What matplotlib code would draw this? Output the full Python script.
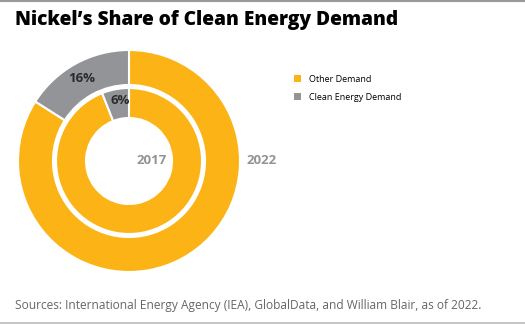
import matplotlib.pyplot as plt
from matplotlib.patches import Patch

labels = ["Other Demand", "Clean Energy Demand"]
share_2022 = [84, 16]
share_2017 = [94, 6]
colors = ["#FBB316", "#929497"]

H = 324
fig = plt.figure(figsize=(5.25, 3.24), dpi=100)
ax = fig.add_axes([0, 0, 1, 1])

def Y(y):
    # pixel row from top -> data y
    return H - y

cx, cy = 129, Y(161)
# outer ring 2022
ax.pie(share_2022, colors=colors, startangle=90, counterclock=False,
       radius=111, center=(cx, cy), frame=True,
       wedgeprops=dict(width=35, edgecolor="white", linewidth=1.5))
# inner ring 2017
ax.pie(share_2017, colors=colors, startangle=90, counterclock=False,
       radius=73, center=(cx, cy), frame=True,
       wedgeprops=dict(width=30, edgecolor="white", linewidth=1.5))
ax.set_xlim(0, 525)
ax.set_ylim(0, H)
ax.set_aspect("auto")
ax.axis("off")

lab = dict(ha="center", va="center", fontsize=9.5, fontweight="bold", family="Open Sans")
ax.text(82, Y(78), f"{share_2022[1]}%", color="#2b2b2b", **lab)
ax.text(120, Y(101), f"{share_2017[1]}%", color="#2b2b2b", **lab)
ax.text(152, Y(161), "2017", color="#929497", **lab)
ax.text(262, Y(161), "2022", color="#929497", **lab)

ax.text(15, Y(20), "Nickel\u2019s Share of Clean Energy Demand", ha="left",
        va="center", fontsize=13.8, fontweight="heavy", color="black",
        family="Open Sans")

handles = [Patch(facecolor=c, edgecolor="none") for c in colors]
fig.legend(handles, labels, loc="upper left", bbox_to_anchor=(0.545, 0.795),
           frameon=False, handlelength=0.8, handleheight=0.8,
           handletextpad=0.8, labelspacing=1.0,
           prop=dict(family="Open Sans", size=6.5))

ax.text(15, Y(305), "Sources: International Energy Agency (IEA), GlobalData, and William Blair, as of 2022.",
        ha="left", va="center", fontsize=8.6, color="#666666", family="Open Sans")

ax.plot([0, 525], [Y(0.8), Y(0.8)], color="#999999", lw=1.5)
ax.plot([0, 525], [Y(322.5), Y(322.5)], color="#bbbbbb", lw=1.2)

fig.savefig("out.png", dpi=100)
